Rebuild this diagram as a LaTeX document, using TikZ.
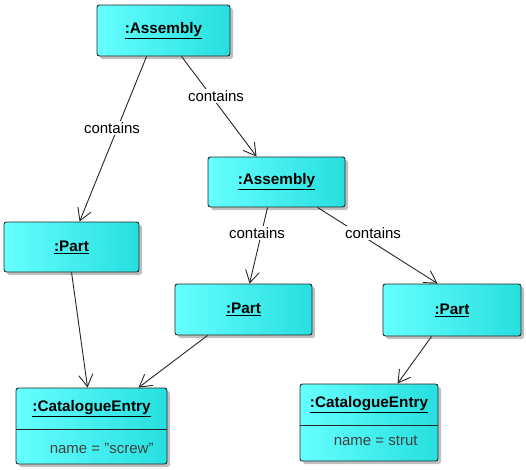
\documentclass[tikz,border=0pt]{standalone}
\usepackage{fontspec}
\setmainfont{Liberation Sans}
\usetikzlibrary{arrows.meta,shadows,calc}
\newcommand{\ul}[1]{\underline{#1}}
\begin{document}
\begin{tikzpicture}[x=1pt,y=-1pt,
  obj/.style={draw=black!85, line width=0.9pt, rounded corners=2.5pt,
    left color=cyan!60!white!100, right color=cyan!70!teal!85,
    drop shadow={shadow xshift=3pt, shadow yshift=-3pt, opacity=0.25, fill=black},
    inner sep=0pt, font=\fontsize{15.3}{17}\selectfont\bfseries},
  title/.style={font=\fontsize{15.3}{17}\selectfont\bfseries, inner sep=0pt},
  lbl/.style={fill=white, inner sep=1.5pt, font=\fontsize{15}{17}\selectfont},
  attr/.style={anchor=west, inner sep=0pt, text=black!75, font=\fontsize{15}{17}\selectfont},
  rel/.style={line width=0.9pt, draw=black!85, -{Straight Barb[length=12pt,width=14pt,line width=0.9pt]}}
]
\useasboundingbox (0,0) rectangle (526,469);
\node[obj, minimum width=133pt, minimum height=51pt] (a1) at (163.5,30.5) {\ul{:Assembly}};
\node[obj, minimum width=135pt, minimum height=50pt] (p1) at (71.5,247) {\ul{:Part}};
\node[obj, minimum width=137pt, minimum height=50pt] (a2) at (276.5,182) {\ul{:Assembly}};
\node[obj, minimum width=137pt, minimum height=51pt] (p2) at (243.5,309.5) {\ul{:Part}};
\node[obj, minimum width=138pt, minimum height=52pt] (p3) at (452,310) {\ul{:Part}};
\node[obj, minimum width=151pt, minimum height=76pt] (c1) at (91.5,426) {};
\node[obj, minimum width=138pt, minimum height=77pt] (c2) at (369,422.5) {};
% compartments
\draw[line width=0.9pt, draw=black!85] ($(c1.north west)+(0,42)$) coordinate (c1s) -- ($(c1.north east)+(0,42)$);
\draw[line width=0.9pt, draw=black!85] ($(c2.north west)+(0,42)$) coordinate (c2s) -- ($(c2.north east)+(0,42)$);
\node[title] (c1t) at ($(c1.north)+(0,21)$) {\ul{:CatalogueEntry}};
\node[title] (c2t) at ($(c2.north)+(0,21)$) {\ul{:CatalogueEntry}};
\node[attr] (c1a) at ($(c1.north west)+(34,61)$) {name = \symbol{34}screw\symbol{34}};
\node[attr] (c2a) at ($(c2.north west)+(34,57)$) {name = strut};
% connector end points
\coordinate (a1s1) at ($(a1.south west)+(50,0)$);
\coordinate (a1s2) at ($(a1.south west)+(85,0)$);
\coordinate (p1n) at ($(p1.north west)+(76,0)$);
\coordinate (a2n) at ($(a2.north west)+(49,0)$);
\coordinate (a2s1) at ($(a2.south west)+(60,0)$);
\coordinate (a2s2) at ($(a2.south west)+(110,0)$);
\coordinate (p2n) at ($(p2.north west)+(75,0)$);
\coordinate (p3n) at ($(p3.north west)+(55,0)$);
\coordinate (p1s) at ($(p1.south west)+(68,0)$);
\coordinate (p2s) at ($(p2.south west)+(33,0)$);
\coordinate (p3s) at ($(p3.south west)+(49,0)$);
\coordinate (c1n1) at ($(c1.north west)+(72,0)$);
\coordinate (c1n2) at ($(c1.north west)+(123,0)$);
\coordinate (c2n) at ($(c2.north west)+(98,0)$);
\draw[rel] (a1s1) -- (p1n);
\draw[rel] (a1s2) -- (a2n);
\draw[rel] (a2s1) -- (p2n);
\draw[rel] (a2s2) -- (p3n);
\draw[rel] (p1s) -- (c1n1);
\draw[rel] (p2s) -- (c1n2);
\draw[rel] (p3s) -- (c2n);
\node[lbl] (l1) at (112,128) {contains};
\node[lbl] (l2) at (216,96) {contains};
\node[lbl] (l3) at (257,233) {contains};
\node[lbl] (l4) at (373,233) {contains};
\end{tikzpicture}
\end{document}
